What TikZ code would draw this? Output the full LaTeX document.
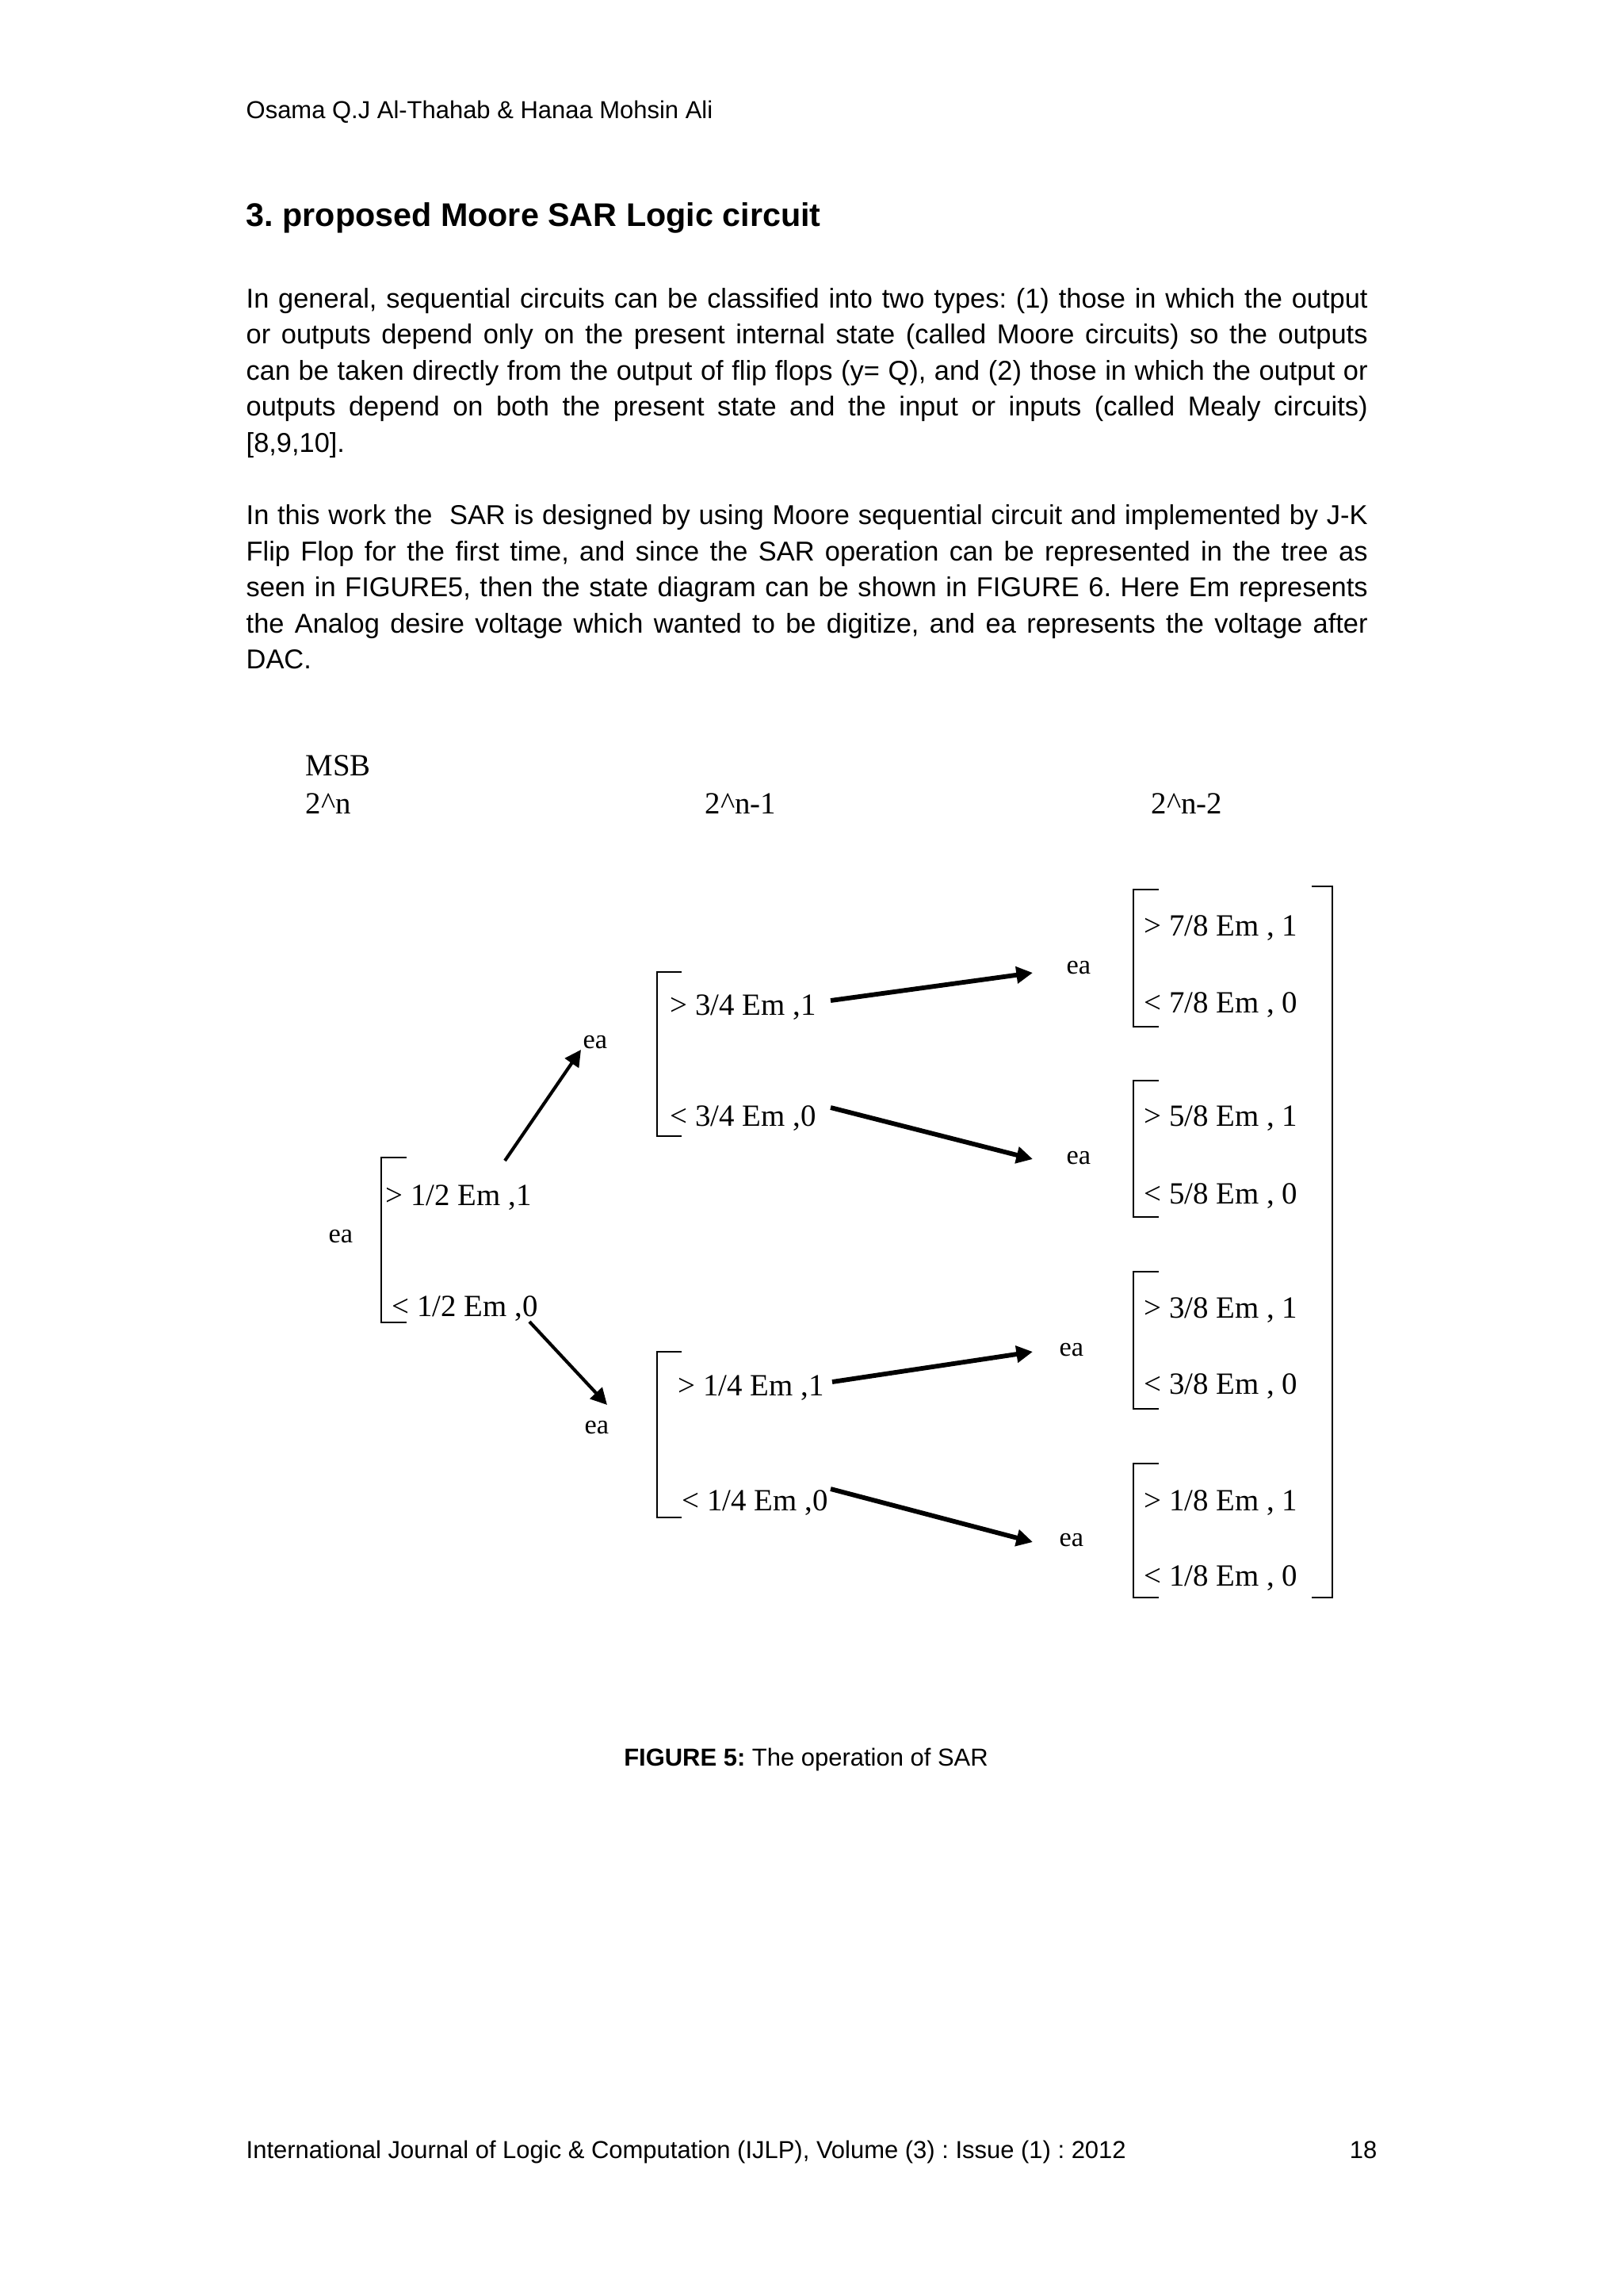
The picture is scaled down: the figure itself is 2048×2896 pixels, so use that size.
\documentclass[tikz,border=0pt]{standalone}
\usepackage{fontspec}
\setmainfont{Liberation Serif}
\newfontfamily\arialfont{Liberation Sans}
\usetikzlibrary{arrows.meta}
\frenchspacing
\newcommand\JLine[1]{\hbox to 411.3pt{#1}}
\tikzset{
  bodytxt/.style={anchor=base west, inner sep=0pt, font=\arialfont\fontsize{10}{12}\selectfont},
  dg/.style={anchor=base west, inner sep=0pt, font=\fontsize{11.3}{13}\selectfont},
  ealab/.style={anchor=base west, inner sep=0pt, font=\fontsize{10}{12}\selectfont},
  brk/.style={line width=0.8pt},
  arr/.style={line width=1.7pt, -{Triangle[length=6pt,width=6pt]}},
  arrthin/.style={line width=1.2pt, -{Triangle[length=6pt,width=6pt]}},
}
\begin{document}
\begin{tikzpicture}[x=0.29067pt, y=-0.29067pt]
\fill[white] (0,0) rectangle (2048,2896);
\useasboundingbox (0,0) rectangle (2048,2896);

% header and heading
\node[anchor=base west, inner sep=0pt, font=\arialfont\fontsize{9}{11}\selectfont] (hdr) at (310,149) {Osama Q.J Al-Thahab \& Hanaa Mohsin Ali};
\node[anchor=base west, inner sep=0pt, font=\arialfont\bfseries\fontsize{12}{14}\selectfont] (head) at (310,285) {3. proposed Moore SAR Logic circuit};

% paragraph 1
\node[bodytxt] (p1a) at (310,388) {\JLine{In general, sequential circuits can be classified into two types: (1) those in which the output}};
\node[bodytxt] (p1b) at (310,433) {\JLine{or outputs depend only on the present internal state (called Moore circuits) so the outputs}};
\node[bodytxt] (p1c) at (310,479) {\JLine{can be taken directly from the output of flip flops (y= Q), and (2) those in which the output or}};
\node[bodytxt] (p1d) at (310,524) {\JLine{outputs depend on both the present state and the input or inputs (called Mealy circuits)}};
\node[bodytxt] (p1e) at (310,570) {[8,9,10].};

% paragraph 2
\node[bodytxt] (p2a) at (310,661) {\JLine{In this work the\ \ SAR is designed by using Moore sequential circuit and implemented by J-K}};
\node[bodytxt] (p2b) at (310,707) {\JLine{Flip Flop for the first time, and since the SAR operation can be represented in the tree as}};
\node[bodytxt] (p2c) at (310,752) {\JLine{seen in FIGURE5, then the state diagram can be shown in FIGURE 6. Here Em represents}};
\node[bodytxt] (p2d) at (310,798) {\JLine{the Analog desire voltage which wanted to be digitize, and ea represents the voltage after}};
\node[bodytxt] (p2e) at (310,843) {DAC.};

% diagram column titles
\node[dg] (msb) at (385,978) {MSB};
\node[dg] (l0) at (385,1026) {2\textasciicircum n};
\node[dg] (l1) at (889,1026) {2\textasciicircum n-1};
\node[dg] (l2) at (1452,1026) {2\textasciicircum n-2};

% level 1
\node[ealab] (ea0) at (414,1567) {ea};
\node[dg] (gt12) at (486,1520) {> 1/2 Em ,1};
\node[dg] (lt12) at (494,1660) {< 1/2 Em ,0};
\draw[brk] (513,1460) -- (481,1460) -- (481,1668) -- (513,1668);

\node[ealab] (eaU) at (735,1322) {ea};
\node[ealab] (eaD) at (737,1808) {ea};

% level 2
\node[dg] (gt34) at (845,1280) {> 3/4 Em ,1};
\node[dg] (lt34) at (845,1420) {< 3/4 Em ,0};
\draw[brk] (860,1226) -- (829,1226) -- (829,1433) -- (860,1433);
\node[dg] (gt14) at (855,1760) {> 1/4 Em ,1};
\node[dg] (lt14) at (860,1905) {< 1/4 Em ,0};
\draw[brk] (860,1705) -- (829,1705) -- (829,1914) -- (860,1914);

% level 3 ea labels
\node[ealab] (eaA) at (1345,1228) {ea};
\node[ealab] (eaB) at (1345,1468) {ea};
\node[ealab] (eaC) at (1336,1710) {ea};
\node[ealab] (eaDD) at (1336,1950) {ea};

% level 3 brackets and texts
\draw[brk] (1462,1122) -- (1430,1122) -- (1430,1295) -- (1462,1295);
\node[dg] (gt78) at (1443,1180) {> 7/8 Em , 1};
\node[dg] (lt78) at (1443,1277) {< 7/8 Em , 0};
\draw[brk] (1462,1363) -- (1430,1363) -- (1430,1535) -- (1462,1535);
\node[dg] (gt58) at (1443,1420) {> 5/8 Em , 1};
\node[dg] (lt58) at (1443,1518) {< 5/8 Em , 0};
\draw[brk] (1462,1604) -- (1430,1604) -- (1430,1777) -- (1462,1777);
\node[dg] (gt38) at (1443,1662) {> 3/8 Em , 1};
\node[dg] (lt38) at (1443,1758) {< 3/8 Em , 0};
\draw[brk] (1462,1846) -- (1430,1846) -- (1430,2015) -- (1462,2015);
\node[dg] (gt18) at (1443,1905) {> 1/8 Em , 1};
\node[dg] (lt18) at (1443,2000) {< 1/8 Em , 0};

% big right bracket
\draw[brk] (1655,1118) -- (1681,1118) -- (1681,2015) -- (1655,2015);

% arrows
\coordinate (s1) at (637,1464); \coordinate (e1) at (733,1324);
\coordinate (s2) at (668,1667); \coordinate (e2) at (766,1772);
\coordinate (s3) at (1048,1262); \coordinate (e3) at (1303,1227);
\coordinate (s4) at (1048,1397); \coordinate (e4) at (1303,1462);
\coordinate (s5) at (1050,1743); \coordinate (e5) at (1303,1705);
\coordinate (s6) at (1048,1878); \coordinate (e6) at (1303,1945);
\draw[arrthin] (s1) -- (e1);
\draw[arrthin] (s2) -- (e2);
\draw[arr] (s3) -- (e3);
\draw[arr] (s4) -- (e4);
\draw[arr] (s5) -- (e5);
\draw[arr] (s6) -- (e6);

% caption and footer
\node[anchor=base, inner sep=0pt, font=\arialfont\fontsize{9}{11}\selectfont] (cap) at (1017,2227) {\textbf{FIGURE 5:} The operation of SAR};
\node[anchor=base west, inner sep=0pt, font=\arialfont\fontsize{9}{11}\selectfont] (foot) at (310,2722) {International Journal of Logic \& Computation (IJLP), Volume (3) : Issue (1) : 2012};
\node[anchor=base east, inner sep=0pt, font=\arialfont\fontsize{9}{11}\selectfont] (pg) at (1738,2722) {18};
\end{tikzpicture}
\end{document}
